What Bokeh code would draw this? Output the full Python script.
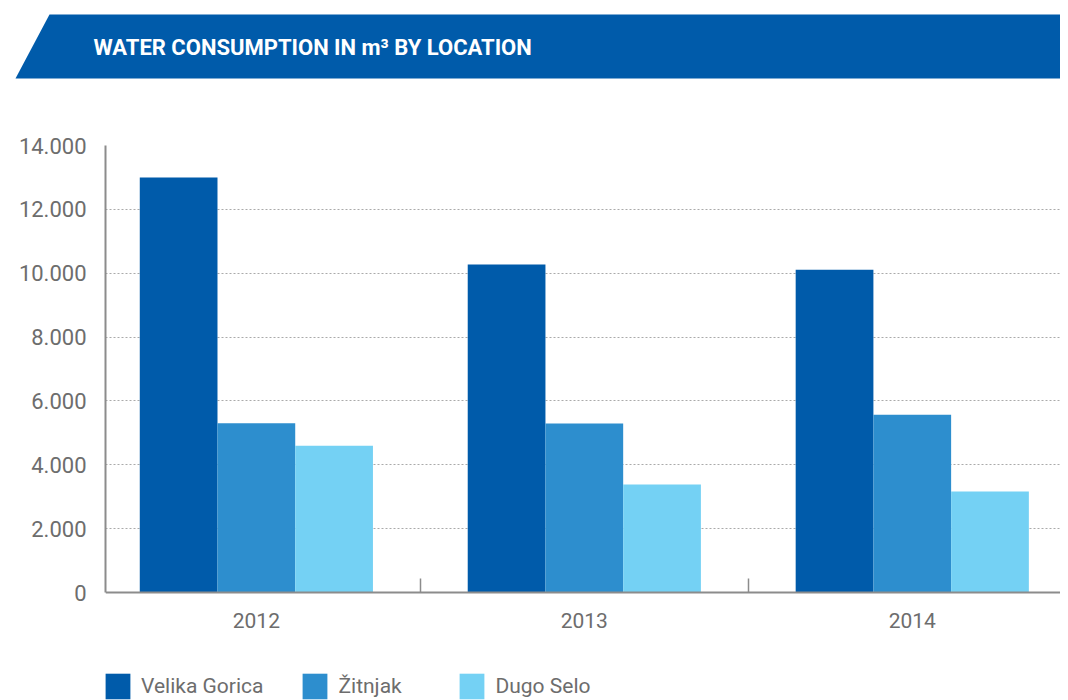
from bokeh.plotting import figure
from bokeh.layouts import column
from bokeh.models import Range1d, FixedTicker, Legend, LegendItem, ColumnDataSource
from bokeh.core.properties import value
from bokeh.embed import file_html
from bokeh.resources import INLINE

# ---- data ----
years = ["2012", "2013", "2014"]
series_names = ["Velika Gorica", "Žitnjak", "Dugo Selo"]
velika_gorica = [13000, 10270, 10110]
zitnjak = [5300, 5290, 5570]
dugo_selo = [4600, 3380, 3160]
y_ticks = [0, 2000, 4000, 6000, 8000, 10000, 12000, 14000]
y_tick_labels = ["0", "2.000", "4.000", "6.000", "8.000", "10.000", "12.000", "14.000"]
title_text = "WATER CONSUMPTION IN m³ BY LOCATION"

colors = ["#005BAA", "#2D8ECE", "#74D1F4"]
FONT = "Roboto"
GRAY = "#6d6d6d"
AXIS_GRAY = "#8c8c8c"

W = 1060

# ---- banner (decorative header) ----
BH = 80
banner = figure(width=W, height=BH, x_range=Range1d(0, W), y_range=Range1d(BH, 0),
                toolbar_location=None, output_backend="svg", min_border=0,
                frame_align=False)
banner.axis.visible = False
banner.grid.visible = False
banner.outline_line_color = None
banner.patch(x=[49, W, W, 15], y=[14, 14, 78, 78], fill_color="#005BAA", line_color=None)
banner.text(x=[93], y=[47], text=[title_text], text_color="white",
            text_font=value(FONT), text_font_style="bold", text_font_size="22px",
            text_baseline="middle", text_align="left")

# ---- chart ----
PX_PER_UNIT = 447 / 14000.0          # plot scale: 14.000 spans 447 px
y_bottom = -108 / PX_PER_UNIT        # frame continues below zero to hold the legend
p = figure(frame_width=W - 105, frame_height=555,
           x_range=Range1d(0.04, 2.952), y_range=Range1d(y_bottom, 14000),
           toolbar_location=None, output_backend="svg", frame_align=False,
           min_border_left=105, min_border_right=0, min_border_top=65, min_border_bottom=0)
p.outline_line_color = None
p.xgrid.grid_line_color = None

bw = 0.237
centers = [i + 0.5 for i in range(len(years))]
renderers = []
for k, vals in enumerate([velika_gorica, zitnjak, dugo_selo]):
    off = (k - 1) * bw
    src = ColumnDataSource(dict(x=[c + off for c in centers], top=vals))
    r = p.vbar(x="x", top="top", width=bw, bottom=0, source=src,
               fill_color=colors[k], line_color=None)
    renderers.append(r)

# y axis
p.yaxis.ticker = FixedTicker(ticks=y_ticks)
p.yaxis.bounds = (0, 14000)
p.yaxis.major_label_overrides = {t: l for t, l in zip(y_ticks, y_tick_labels)}
p.yaxis.axis_line_color = AXIS_GRAY
p.yaxis.axis_line_width = 2
p.yaxis.major_tick_line_color = None
p.yaxis.major_tick_out = 0
p.yaxis.major_tick_in = 0
p.yaxis.minor_tick_line_color = None
p.yaxis.major_label_standoff = 19
p.yaxis.major_label_text_font = FONT
p.yaxis.major_label_text_font_size = "22px"
p.yaxis.major_label_text_color = GRAY

p.ygrid.ticker = FixedTicker(ticks=y_ticks[1:])
p.ygrid.grid_line_color = "#aaaaaa"
p.ygrid.grid_line_dash = "2 2"
p.ygrid.grid_line_width = 1

# x axis drawn at value 0
p.xaxis.fixed_location = 0
p.xaxis.ticker = FixedTicker(ticks=centers, minor_ticks=[1, 2])
p.xaxis.major_label_overrides = {c: y for c, y in zip(centers, years)}
p.xaxis.axis_line_color = AXIS_GRAY
p.xaxis.axis_line_width = 2
p.xaxis.major_tick_line_color = None
p.xaxis.minor_tick_in = 14
p.xaxis.minor_tick_out = 0
p.xaxis.minor_tick_line_color = AXIS_GRAY
p.xaxis.minor_tick_line_width = 1.5
p.xaxis.major_label_standoff = 14
p.xaxis.major_label_text_font = FONT
p.xaxis.major_label_text_font_size = "21px"
p.xaxis.major_label_text_color = GRAY

legend = Legend(items=[LegendItem(label=n, renderers=[r]) for n, r in zip(series_names, renderers)],
                orientation="horizontal", location=(-3, -2),
                glyph_width=31, glyph_height=32, label_standoff=8, spacing=36,
                label_width=82,
                margin=0, padding=0, border_line_color=None, background_fill_alpha=0,
                label_text_font=FONT, label_text_font_size="21px", label_text_color=GRAY)
p.add_layout(legend)

layout = column(banner, p, spacing=0)
open("out.html", "w").write(file_html(layout, INLINE))
